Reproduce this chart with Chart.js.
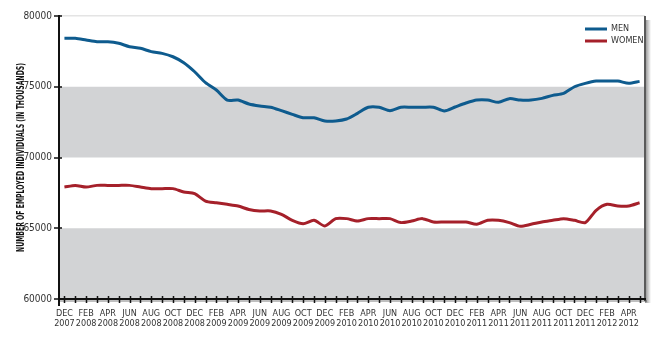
<!DOCTYPE html>
<html>
<head>
<meta charset="utf-8">
<script src="https://cdn.jsdelivr.net/npm/chart.js@4.4.1/dist/chart.umd.min.js"></script>
<style>
  html, body { margin: 0; padding: 0; background: #fff; }
  #wrap { width: 660px; height: 342px; position: relative; }
</style>
</head>
<body>
<div id="wrap"><canvas id="employmentChart"></canvas></div>
<script>
// monthly employment, thousands of people
const months = [
  'DEC 2007',
  'JAN 2008', 'FEB 2008', 'MAR 2008', 'APR 2008', 'MAY 2008', 'JUN 2008',
  'JUL 2008', 'AUG 2008', 'SEP 2008', 'OCT 2008', 'NOV 2008', 'DEC 2008',
  'JAN 2009', 'FEB 2009', 'MAR 2009', 'APR 2009', 'MAY 2009', 'JUN 2009',
  'JUL 2009', 'AUG 2009', 'SEP 2009', 'OCT 2009', 'NOV 2009', 'DEC 2009',
  'JAN 2010', 'FEB 2010', 'MAR 2010', 'APR 2010', 'MAY 2010', 'JUN 2010',
  'JUL 2010', 'AUG 2010', 'SEP 2010', 'OCT 2010', 'NOV 2010', 'DEC 2010',
  'JAN 2011', 'FEB 2011', 'MAR 2011', 'APR 2011', 'MAY 2011', 'JUN 2011',
  'JUL 2011', 'AUG 2011', 'SEP 2011', 'OCT 2011', 'NOV 2011', 'DEC 2011',
  'JAN 2012', 'FEB 2012', 'MAR 2012', 'APR 2012', 'MAY 2012'
];

const men = [
  78420,
  78420, 78300, 78180, 78180, 78070, 77830,
  77720, 77480, 77360, 77120, 76700, 76060,
  75290, 74770, 74060, 74060, 73780, 73640,
  73550, 73310, 73050, 72810, 72810, 72580,
  72580, 72720, 73120, 73550, 73550, 73310,
  73550, 73550, 73550, 73550, 73290, 73570,
  73850, 74060, 74060, 73900, 74160, 74060,
  74060, 74180, 74390, 74530, 75000, 75240,
  75400, 75400, 75400, 75240, 75380
];

const women = [
  67915,
  68030, 67915, 68030, 68030, 68030, 68030,
  67915, 67800, 67800, 67800, 67560, 67440,
  66920, 66800, 66690, 66570, 66330, 66220,
  66220, 65980, 65560, 65320, 65560, 65160,
  65680, 65680, 65510, 65680, 65680, 65680,
  65400, 65510, 65680, 65440, 65440, 65440,
  65440, 65280, 65560, 65560, 65400, 65140,
  65280, 65440, 65560, 65680, 65560, 65400,
  66270, 66690, 66570, 66570, 66800
];

const yTicks = [60000, 65000, 70000, 75000, 80000];
const shadedBands = [[60000, 65000], [70000, 75000]];
const yTitle = 'NUMBER OF EMPLOYED INDIVIDUALS (IN THOUSANDS)';

const FONT = "'Liberation Sans Narrow', 'DejaVu Sans Condensed', 'Arial Narrow', sans-serif";
const BLUE = '#0e5b8e';
const RED = '#a5202a';

// grey bands behind the lines
const bandsPlugin = {
  id: 'bands',
  beforeDatasetsDraw(chart) {
    const { ctx, chartArea: a, scales: { y } } = chart;
    ctx.save();
    ctx.fillStyle = '#d2d3d5';
    shadedBands.forEach(([lo, hi]) => {
      const top = y.getPixelForValue(hi);
      const bottom = y.getPixelForValue(lo);
      ctx.fillRect(a.left, top, a.right - a.left, bottom - top);
    });
    // faint line along the top
    ctx.fillStyle = '#e4e4e4';
    ctx.fillRect(a.left, y.getPixelForValue(80000) - 1, a.right - a.left, 1.5);
    ctx.restore();
  }
};

// axis lines, crossing ticks, right frame with shadow, axis title, legend
const framePlugin = {
  id: 'frame',
  afterDraw(chart) {
    const { ctx, chartArea: a, scales: { x, y } } = chart;
    ctx.save();

    // right frame shadow
    const grad = ctx.createLinearGradient(a.right, 0, a.right + 6, 0);
    grad.addColorStop(0, 'rgba(0,0,0,0.45)');
    grad.addColorStop(1, 'rgba(0,0,0,0)');
    ctx.fillStyle = grad;
    ctx.fillRect(a.right, a.top + 4, 6, a.bottom - a.top);
    ctx.fillStyle = '#5a5a5a';
    ctx.fillRect(a.right - 1, a.top, 2, a.bottom - a.top + 2);

    // x axis with shadow
    ctx.fillStyle = 'rgba(0,0,0,0.25)';
    ctx.fillRect(a.left, a.bottom + 1, a.right - a.left + 2, 2);
    ctx.fillStyle = '#111';
    ctx.fillRect(a.left - 1, a.bottom - 1, a.right - a.left + 2, 2);

    // y axis
    ctx.fillRect(a.left - 1, a.top - 1, 2, a.bottom - a.top + 8);

    ctx.strokeStyle = '#111';
    ctx.lineWidth = 1.5;
    ctx.beginPath();
    yTicks.forEach(v => {
      const py = Math.round(y.getPixelForValue(v));
      ctx.moveTo(a.left - 5, py);
      ctx.lineTo(a.left + 3, py);
    });
    months.forEach((m, i) => {
      const px = Math.round(x.getPixelForValue(i)) + 0.5;
      ctx.moveTo(px, a.bottom - 3);
      ctx.lineTo(px, a.bottom + 4);
    });
    ctx.stroke();

    // condensed y axis title
    ctx.save();
    ctx.translate(21, (a.top + a.bottom) / 2);
    ctx.rotate(-Math.PI / 2);
    ctx.font = 'bold 11px ' + FONT;
    const w = ctx.measureText(yTitle).width;
    ctx.scale(Math.min(1, 189 / w), 1);
    ctx.fillStyle = '#111';
    ctx.textAlign = 'center';
    ctx.textBaseline = 'middle';
    ctx.fillText(yTitle, 0, 0);
    ctx.restore();

    // legend
    ctx.font = '9px ' + FONT;
    ctx.textBaseline = 'middle';
    chart.data.datasets.forEach((ds, i) => {
      const ly = 29 + i * 12;
      ctx.fillStyle = ds.borderColor;
      ctx.fillRect(585, ly - 1.5, 22, 3);
      ctx.fillStyle = '#333';
      ctx.fillText(ds.label, 611, ly);
    });
    ctx.restore();
  }
};

new Chart(document.getElementById('employmentChart'), {
  type: 'line',
  data: {
    labels: months,
    datasets: [
      { label: 'MEN', data: men, borderColor: BLUE, borderWidth: 3, pointRadius: 0, tension: 0.25, fill: false },
      { label: 'WOMEN', data: women, borderColor: RED, borderWidth: 3, pointRadius: 0, tension: 0.25, fill: false }
    ]
  },
  options: {
    responsive: true,
    maintainAspectRatio: false,
    animation: false,
    layout: { padding: { top: 16, right: 15, left: 0, bottom: 0 } },
    plugins: { legend: { display: false }, tooltip: { enabled: false } },
    scales: {
      x: {
        type: 'category',
        offset: true,
        grid: { display: false, drawTicks: false },
        border: { display: false },
        afterFit(scale) { scale.height = 43; },
        ticks: {
          autoSkip: false,
          maxRotation: 0,
          padding: 10,
          color: '#333',
          font: { family: FONT, size: 9, lineHeight: 1.05 },
          callback(value, index) {
            return index % 2 ? '' : months[index].split(' ');
          }
        }
      },
      y: {
        min: 60000,
        max: 80000,
        grid: { display: false, drawTicks: false },
        border: { display: false },
        afterFit(scale) { scale.width = 59; },
        afterBuildTicks(scale) { scale.ticks = yTicks.map(v => ({ value: v })); },
        ticks: {
          padding: 7,
          color: '#333',
          font: { family: FONT, size: 10 },
          callback: v => String(v)
        }
      }
    }
  },
  plugins: [bandsPlugin, framePlugin]
});
</script>
</body>
</html>
